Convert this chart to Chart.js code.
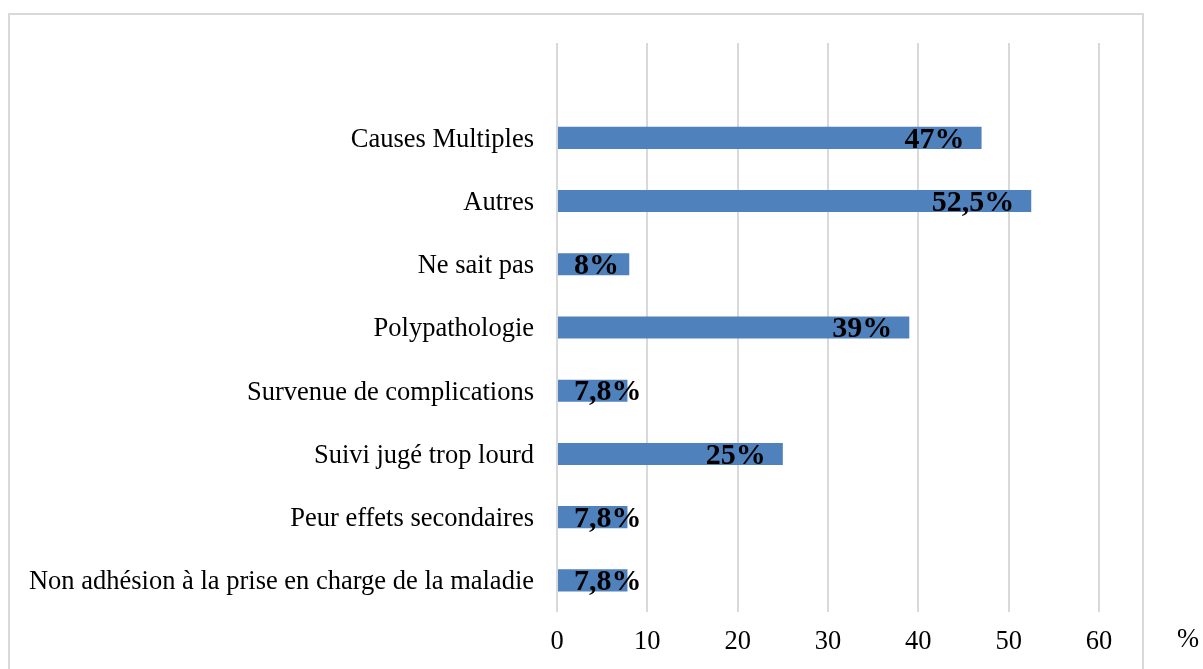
<!DOCTYPE html>
<html>
<head>
  <title>Causes</title>
  <script src="https://cdn.jsdelivr.net/npm/chart.js"></script>
  <style>
    html, body { margin: 0; padding: 0; background: #fff; overflow: hidden; }
    .frame {
      position: absolute;
      left: 8px;
      top: 13px;
      width: 1132px;
      height: 700px;
      border: 2px solid #d9d9d9;
    }
    .wrap {
      position: absolute;
      left: 0;
      top: 0;
      width: 1203px;
      height: 669px;
    }
  </style>
</head>
<body>
  <div class="frame"></div>
  <div class="wrap">
    <canvas id="barChart"></canvas>
  </div>

  <script>
    // données (de haut en bas), la première ligne est vide comme dans l'original
    const categories = ['', 'Causes Multiples', 'Autres', 'Ne sait pas', 'Polypathologie',
      'Survenue de complications', 'Suivi jugé trop lourd', 'Peur effets secondaires',
      'Non adhésion à la prise en charge de la maladie'];
    const values = [null, 47, 52.5, 8, 39, 7.8, 25, 7.8, 7.8];
    const valueLabels = ['', '47%', '52,5%', '8%', '39%', '7,8%', '25%', '7,8%', '7,8%'];
    const xTicks = [0, 10, 20, 30, 40, 50, 60];

    const serif = "'Liberation Serif', 'Times New Roman', serif";

    // étiquettes de valeurs, en bout de barre (décalées vers l'intérieur)
    const valueLabelPlugin = {
      id: 'valueLabels',
      afterDatasetsDraw(chart) {
        const ctx = chart.ctx;
        const meta = chart.getDatasetMeta(0);
        ctx.save();
        ctx.font = 'bold 30px ' + serif;
        ctx.fillStyle = '#000';
        ctx.textBaseline = 'middle';
        ctx.textAlign = 'left';
        meta.data.forEach((bar, i) => {
          if (values[i] == null) return;
          const txt = valueLabels[i];
          const w = ctx.measureText(txt).width;
          const left = Math.max(bar.base + 16, bar.x - 17 - w);
          ctx.fillText(txt, left, bar.y + 2);
        });
        ctx.restore();
      }
    };

    // le « % » à droite de l'axe
    const unitPlugin = {
      id: 'unitLabel',
      afterDraw(chart) {
        const ctx = chart.ctx;
        const x = chart.scales.x;
        ctx.save();
        ctx.font = '26.5px ' + serif;
        ctx.fillStyle = '#000';
        ctx.textAlign = 'center';
        ctx.textBaseline = 'middle';
        ctx.fillText('%', 1188, x.top + 28);
        ctx.restore();
      }
    };

    const ctx = document.getElementById('barChart').getContext('2d');
    new Chart(ctx, {
      type: 'bar',
      data: {
        labels: categories,
        datasets: [{
          data: values,
          backgroundColor: '#4f81bd',
          borderWidth: 0,
          barPercentage: 0.35,
          categoryPercentage: 1
        }]
      },
      options: {
        indexAxis: 'y',
        responsive: true,
        maintainAspectRatio: false,
        animation: false,
        layout: { padding: { top: 43, right: 104, left: 0, bottom: 0 } },
        plugins: {
          legend: { display: false },
          tooltip: { enabled: false }
        },
        scales: {
          x: {
            min: 0,
            max: 60,
            afterBuildTicks(scale) {
              scale.ticks = xTicks.map(v => ({ value: v }));
            },
            afterFit(scale) { scale.height = 57; },
            grid: { color: '#d9d9d9', lineWidth: 2, drawTicks: false },
            border: { display: false },
            ticks: {
              padding: 14,
              color: '#000',
              font: { family: serif, size: 26.5 }
            }
          },
          y: {
            afterFit(scale) { scale.width = 557; },
            grid: { display: false },
            border: { display: false },
            ticks: {
              padding: 15,
              labelOffset: 2,
              color: '#000',
              autoSkip: false,
              font: { family: serif, size: 26.5 }
            }
          }
        }
      },
      plugins: [valueLabelPlugin, unitPlugin]
    });
  </script>
</body>
</html>
